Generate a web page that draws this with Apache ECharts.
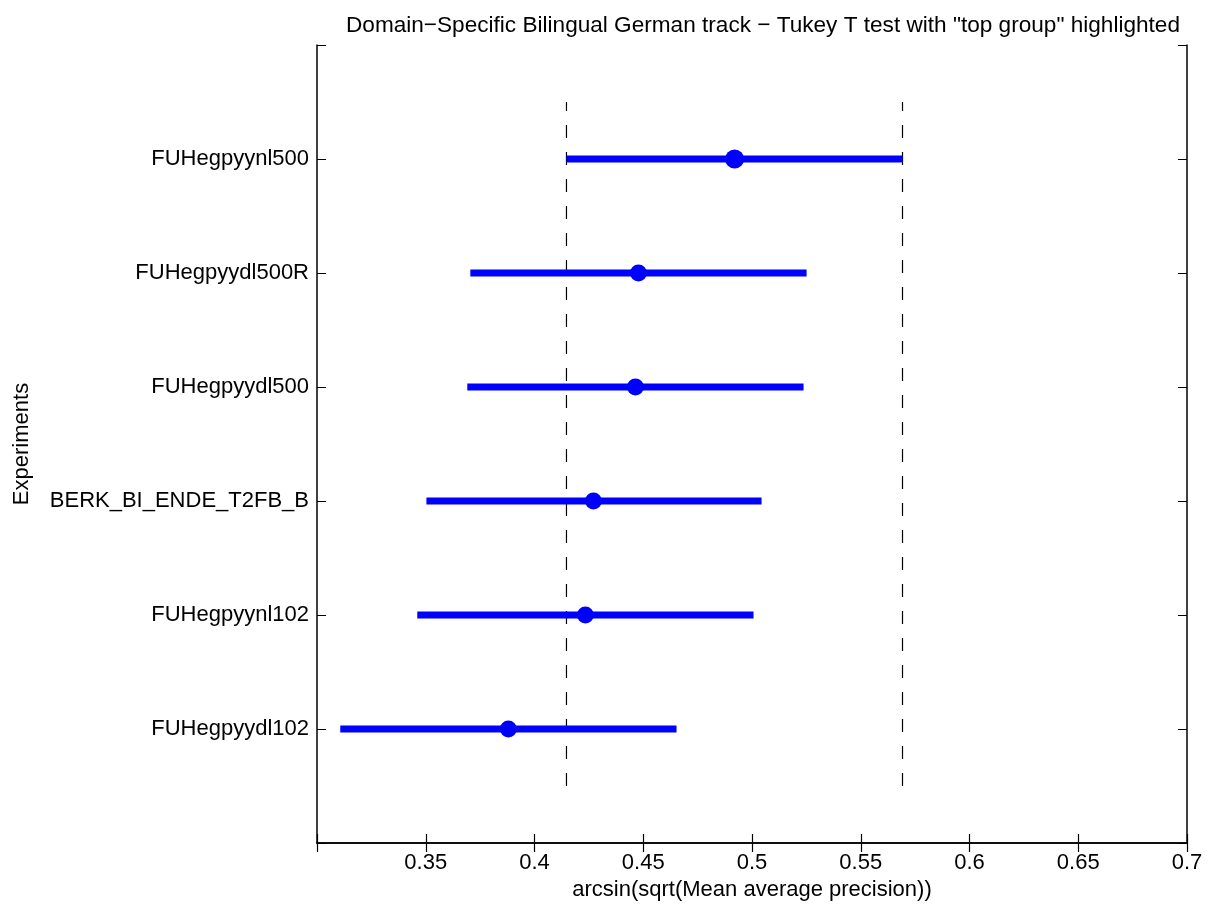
<!DOCTYPE html>
<html>
<head>
<meta charset="utf-8">
<script src="https://cdn.jsdelivr.net/npm/echarts@6/dist/echarts.min.js"></script>
<style>
html,body{margin:0;padding:0;background:#fff;}
#chart{width:1213px;height:908px;}
</style>
</head>
<body>
<div id="chart"></div>
<script>
// Data (bottom to top, y positions 1..6)
const categories = ['FUHegpyydl102', 'FUHegpyynl102', 'BERK_BI_ENDE_T2FB_B', 'FUHegpyydl500', 'FUHegpyydl500R', 'FUHegpyynl500'];
const means = [0.3880, 0.4234, 0.4271, 0.4464, 0.4478, 0.4920];
const lower = [0.3107, 0.3461, 0.3503, 0.3691, 0.3705, 0.4147];
const upper = [0.4653, 0.5007, 0.5044, 0.5237, 0.5251, 0.5692];
const topGroupBounds = [0.4147, 0.5692];
const xTicks = ['0.35', '0.4', '0.45', '0.5', '0.55', '0.6', '0.65', '0.7'];
const highlightIndex = 5;

const FONT = 'Liberation Sans, Arial, Helvetica, sans-serif';
const FS = 22;
const chart = echarts.init(document.getElementById('chart'));

const barData = categories.map((c, i) => [lower[i], upper[i], i + 1]);
const dotData = categories.map((c, i) => ({
  value: [means[i], i + 1],
  symbolSize: i === highlightIndex ? 19 : 17
}));

const dashSeries = topGroupBounds.map(b => ({
  type: 'line',
  data: [[b, 0.5], [b, 6.5]],
  symbol: 'none',
  silent: true,
  lineStyle: { color: '#000', width: 1.2, type: [13, 14] },
  z: 1
}));

const axisLineStyle = { show: true, lineStyle: { color: '#000', width: 1.5 } };
const tickStyle = { color: '#000', width: 1.2 };

chart.setOption({
  animation: false,
  title: {
    text: 'Domain\u2212Specific Bilingual German track \u2212 Tukey T test with "top group" highlighted',
    left: 758, textAlign: 'center', top: 9,
    textStyle: { fontFamily: FONT, fontSize: 22.6, fontWeight: 'normal', color: '#000' }
  },
  grid: { left: 317, right: 26, top: 45, bottom: 65 },
  xAxis: [{
    type: 'value', min: 0.3, max: 0.7, interval: 0.05,
    name: 'arcsin(sqrt(Mean average precision))',
    nameLocation: 'middle', nameGap: 31,
    nameTextStyle: { fontFamily: FONT, fontSize: FS, color: '#000' },
    axisLine: axisLineStyle,
    axisTick: { show: true, inside: true, length: 9, interval: 0, lineStyle: tickStyle },
    axisLabel: {
      fontFamily: FONT, fontSize: FS, color: '#000', margin: 9, interval: 0, hideOverlap: false,
      formatter: v => {
        const s = xTicks.find(t => Math.abs(parseFloat(t) - v) < 1e-6);
        return s || '';
      }
    },
    splitLine: { show: false }
  }, {
    type: 'value', min: 0.3, max: 0.7, interval: 0.05, position: 'top',
    axisLine: axisLineStyle,
    axisTick: { show: true, inside: true, length: 9, interval: 0, lineStyle: tickStyle },
    axisLabel: { show: false }, splitLine: { show: false }
  }],
  yAxis: [{
    type: 'value', min: 0, max: 7, interval: 1,
    name: 'Experiments', nameLocation: 'middle', nameGap: 284, nameRotate: 90,
    nameTextStyle: { fontFamily: FONT, fontSize: FS, color: '#000' },
    axisLine: axisLineStyle,
    axisTick: { show: true, inside: true, length: 9, interval: 0, lineStyle: { color: '#000', width: 1 } },
    axisLabel: {
      fontFamily: FONT, fontSize: FS, color: '#000', margin: 8, interval: 0,
      formatter: v => (v >= 1 && v <= categories.length) ? categories[v - 1] : ''
    },
    splitLine: { show: false }
  }, {
    type: 'value', min: 0, max: 7, interval: 1, position: 'right',
    axisLine: axisLineStyle,
    axisTick: { show: true, inside: true, length: 9, interval: 0, lineStyle: { color: '#000', width: 1 } },
    axisLabel: { show: false }, splitLine: { show: false }
  }],
  series: [
    ...dashSeries,
    {
      type: 'custom',
      data: barData,
      encode: { x: [0, 1], y: 2 },
      renderItem: (params, api) => {
        const p1 = api.coord([api.value(0), api.value(2)]);
        const p2 = api.coord([api.value(1), api.value(2)]);
        return {
          type: 'line',
          shape: { x1: p1[0], y1: p1[1], x2: p2[0], y2: p2[1] },
          style: { stroke: '#0000ff', lineWidth: 7 }
        };
      },
      z: 2
    },
    {
      type: 'scatter',
      data: dotData,
      symbol: 'circle',
      itemStyle: { color: '#0000ff', opacity: 1 },
      z: 3
    }
  ]
});
</script>
</body>
</html>
